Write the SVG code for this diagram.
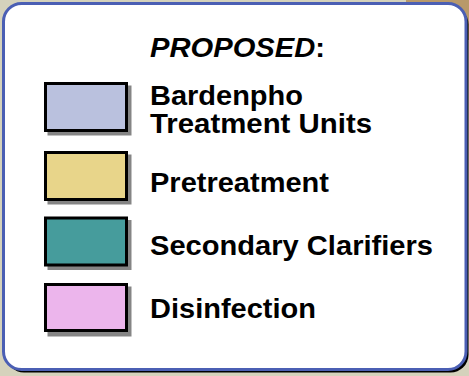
<svg xmlns="http://www.w3.org/2000/svg" width="469" height="376" viewBox="0 0 469 376">
<style>
.lbl{font-family:"Liberation Sans",Arial,sans-serif;font-weight:bold;font-size:27px;fill:#000}
.sw{stroke:#000;stroke-width:3}
.sh{fill:#858585}
</style>
<rect x="0" y="0" width="469" height="376" fill="#d5d2bc"/>
<rect x="406" y="0" width="63" height="40" fill="#b8996a"/>
<g id="legend-frame">
<rect x="6" y="6.5" width="462.5" height="366" rx="18" fill="#000"/>
<rect x="3.5" y="3.5" width="462.5" height="366" rx="18" fill="#fff" stroke="#4b5fb4" stroke-width="3"/>
</g>
<g id="title">
<text class="lbl" x="150" y="56.7" textLength="175" lengthAdjust="spacingAndGlyphs"><tspan font-style="italic">PROPOSED</tspan>:</text>
</g>
<g id="item-bardenpho">
<rect class="sh" x="47.5" y="85.5" width="84" height="50"/>
<rect class="sw" x="45.5" y="83.5" width="81" height="47" fill="#bac1de"/>
<text class="lbl" x="150" y="105" textLength="153" lengthAdjust="spacingAndGlyphs">Bardenpho</text>
<text class="lbl" x="150" y="132.7" textLength="222" lengthAdjust="spacingAndGlyphs">Treatment Units</text>
</g>
<g id="item-pretreatment">
<rect class="sh" x="47.5" y="154.5" width="84" height="50"/>
<rect class="sw" x="45.5" y="152.5" width="81" height="47" fill="#e8d58a"/>
<text class="lbl" x="150" y="191.7" textLength="179" lengthAdjust="spacingAndGlyphs">Pretreatment</text>
</g>
<g id="item-secondary-clarifiers">
<rect class="sh" x="47.5" y="220" width="84" height="50"/>
<rect class="sw" x="45.5" y="218" width="81" height="47" fill="#469c9c"/>
<text class="lbl" x="150" y="255" textLength="283" lengthAdjust="spacingAndGlyphs">Secondary Clarifiers</text>
</g>
<g id="item-disinfection">
<rect class="sh" x="47.5" y="286.5" width="84" height="50"/>
<rect class="sw" x="45.5" y="284.5" width="81" height="46" fill="#ecb5ec"/>
<text class="lbl" x="150" y="318.3" textLength="166" lengthAdjust="spacingAndGlyphs">Disinfection</text>
</g>
</svg>
